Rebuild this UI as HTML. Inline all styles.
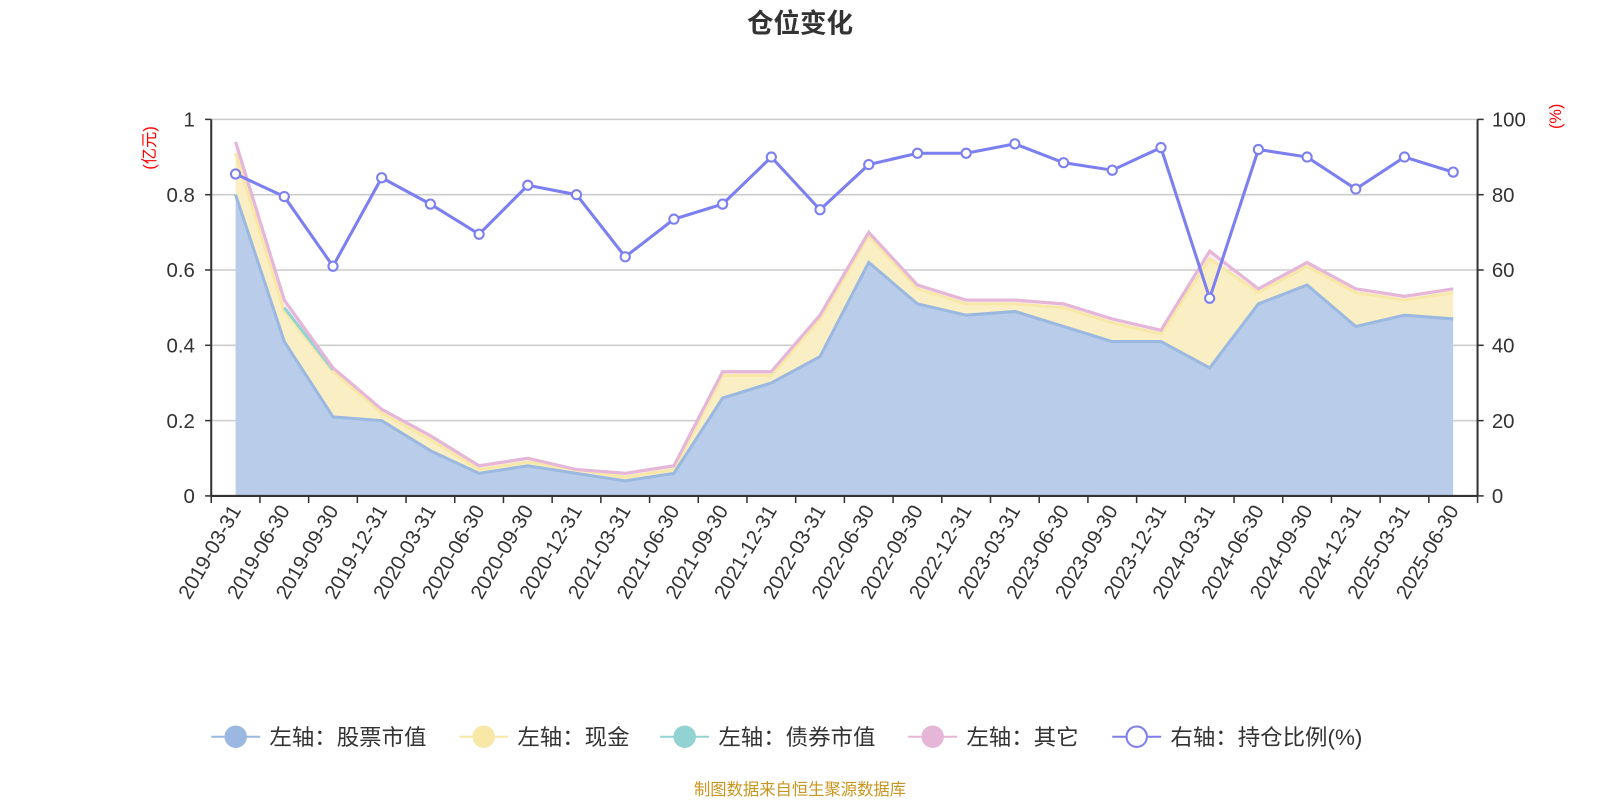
<!DOCTYPE html>
<html><head><meta charset="utf-8"><style>
body{margin:0;background:#fff;font-family:"Liberation Sans","Noto Sans CJK SC",sans-serif}
svg text{font-family:"Liberation Sans","Noto Sans CJK SC",sans-serif}
</style></head><body>
<svg id="c" width="1600" height="800" viewBox="0 0 1568 784" preserveAspectRatio="none" xmlns="http://www.w3.org/2000/svg">
<text x="784" y="32" text-anchor="middle" font-size="26" font-weight="bold" fill="#333">仓位变化</text>
<text transform="translate(152,145) rotate(-90)" text-anchor="middle" font-size="16" fill="red">(亿元)</text>
<text transform="translate(1530,114) rotate(-90)" text-anchor="middle" font-size="16" fill="red">(%)</text>
<g id="grid"></g><g id="areas"></g><g id="axes"></g><g id="ratio"></g><g id="legend"></g>
<text x="784" y="779" text-anchor="middle" font-size="16" fill="#c8961e">制图数据来自恒生聚源数据库</text>
</svg>
<script>
const categories=["2019-03-31","2019-06-30","2019-09-30","2019-12-31","2020-03-31","2020-06-30","2020-09-30","2020-12-31","2021-03-31","2021-06-30","2021-09-30","2021-12-31","2022-03-31","2022-06-30","2022-09-30","2022-12-31","2023-03-31","2023-06-30","2023-09-30","2023-12-31","2024-03-31","2024-06-30","2024-09-30","2024-12-31","2025-03-31","2025-06-30"];
const stockValues=[0.80,0.41,0.21,0.20,0.12,0.06,0.08,0.06,0.04,0.06,0.26,0.30,0.37,0.62,0.51,0.48,0.49,0.45,0.41,0.41,0.34,0.51,0.56,0.45,0.48,0.47];
const cashValues=[0.11,0.08,0.12,0.02,0.03,0.01,0.01,0.01,0.01,0.01,0.06,0.02,0.10,0.07,0.04,0.03,0.02,0.05,0.05,0.02,0.29,0.03,0.05,0.09,0.04,0.07];
const bondValues=[null,0.01,0.005,null,null,null,null,null,null,null,null,null,null,null,null,null,null,null,null,null,null,null,null,null,null,null];
const otherValues=[0.03,0.02,0.005,0.01,0.01,0.01,0.01,0.00,0.01,0.01,0.01,0.01,0.01,0.01,0.01,0.01,0.01,0.01,0.01,0.01,0.02,0.01,0.01,0.01,0.01,0.01];
const ratioValues=[85.5,79.5,61,84.5,77.5,69.5,82.5,80,63.5,73.5,77.5,90,76,88,91,91,93.5,88.5,86.5,92.5,52.5,92,90,81.5,90,86];
const leftTicks=[0,0.2,0.4,0.6,0.8,1];
const rightTicks=[0,20,40,60,80,100];
const NS="http://www.w3.org/2000/svg";
const X0=207,X1=1448,Y0=486,Y1=117;
const band=(X1-X0)/categories.length;
const xS=i=>X0+band*(i+0.5);
const yL=v=>Y0-v*(Y0-Y1)/1;
const yR=p=>Y0-p*(Y0-Y1)/100;
function mk(tag,attrs,parent){const e=document.createElementNS(NS,tag);for(const k in attrs)e.setAttribute(k,attrs[k]);parent.appendChild(e);return e;}
const grid=document.getElementById('grid'),axes=document.getElementById('axes'),areas=document.getElementById('areas'),ratio=document.getElementById('ratio'),legend=document.getElementById('legend');
leftTicks.forEach((t,i)=>{
 const y=yL(t);
 if(i>0){const l=mk('line',{x1:X0,x2:X1,y1:y,y2:y,stroke:'#ccc','stroke-width':1.5},grid);
 
 }
 const tl=mk('text',{x:X0-16,y:y+7,'text-anchor':'end','font-size':20,fill:'#333'},axes);tl.textContent=t;
 
 
 mk('line',{x1:X0-6,x2:X0,y1:y,y2:y,stroke:'#333','stroke-width':1.5},axes);
});
rightTicks.forEach(t=>{
 const y=yR(t);
 const tl=mk('text',{x:X1+14,y:y+7,'font-size':20,fill:'#333'},axes);tl.textContent=t;
 
 
 mk('line',{x1:X1,x2:X1+6,y1:y,y2:y,stroke:'#333','stroke-width':1.5},axes);
});
mk('line',{x1:X0,x2:X0,y1:Y1,y2:Y0,stroke:'#333','stroke-width':2},axes);
mk('line',{x1:X1,x2:X1,y1:Y1,y2:Y0,stroke:'#333','stroke-width':2},axes);
mk('line',{x1:X0,x2:X1,y1:Y0,y2:Y0,stroke:'#333','stroke-width':2},axes);
for(let i=0;i<=categories.length;i++){const x=X0+band*i;mk('line',{x1:x,x2:x,y1:Y0,y2:Y0+7,stroke:'#333','stroke-width':1.5},axes);}
categories.forEach((c,i)=>{
 const x=xS(i);
 const t=mk('text',{transform:`translate(${x+6},${Y0+14}) rotate(-60)`,'text-anchor':'end','font-size':20,fill:'#333'},axes);t.textContent=c;
 
 
});
const n=categories.length;
const s1=stockValues.map(v=>v),s2=s1.map((v,i)=>v+cashValues[i]);
const s3=s2.map((v,i)=>v+(bondValues[i]||0)),s4=s3.map((v,i)=>v+otherValues[i]);
function area(top,bot,fill,stroke,name){
 let d='M'+top.map((v,i)=>xS(i)+','+yL(v)).join('L');
 for(let i=n-1;i>=0;i--)d+='L'+xS(i)+','+yL(bot[i]);
 const p=mk('path',{d:d+'Z',fill:fill,stroke:'none'},areas);
 
 
 const l=mk('polyline',{points:top.map((v,i)=>xS(i)+','+yL(v)).join(' '),fill:'none',stroke:stroke,'stroke-width':3},areas);
 
 
}
const zero=new Array(n).fill(0);
area(s4,s3,'#e8bcdb44','#e6b6d8','other');
area(s2,s1,'#faefc4','#f7e8a8','cash');
area(s1,zero,'#b9cdea','#9bb8e0','stock');
let seg=[];
bondValues.forEach((v,i)=>{if(v!=null)seg.push(xS(i)+','+yL(s3[i]));});
const bl=mk('polyline',{points:seg.join(' '),fill:'none',stroke:'#93d2d3','stroke-width':3},areas);


const pl=mk('polyline',{points:s4.map((v,i)=>xS(i)+','+yL(v)).join(' '),fill:'none',stroke:'#e6b6d8','stroke-width':3},areas);


const rl=mk('polyline',{points:ratioValues.map((v,i)=>xS(i)+','+yR(v)).join(' '),fill:'none',stroke:'#7b7ff0','stroke-width':3},ratio);


ratioValues.forEach((v,i)=>{
 const c=mk('circle',{cx:xS(i),cy:yR(v),r:4.5,fill:'#fff',stroke:'#7b7ff0','stroke-width':2},ratio);
 
 
});
const legendItems=[["左轴：股票市值","#9bb8e0",true,207],["左轴：现金","#f7e8a8",true,450],["左轴：债券市值","#93d2d3",true,647],["左轴：其它","#e6b6d8",true,890],["右轴：持仓比例(%)","#7b7ff0",false,1090]];
legendItems.forEach(([label,col,filled,x])=>{
 const g=mk('g',{},legend);
 
 
 mk('line',{x1:x,x2:x+48,y1:722,y2:722,stroke:col,'stroke-width':2},g);
 mk('circle',{cx:x+24,cy:722,r:10,fill:filled?col:'#fff',stroke:col,'stroke-width':2},g);
 const t=mk('text',{x:x+57,y:730,'font-size':22,fill:'#333'},g);t.textContent=label;
});
</script>
</body></html>
